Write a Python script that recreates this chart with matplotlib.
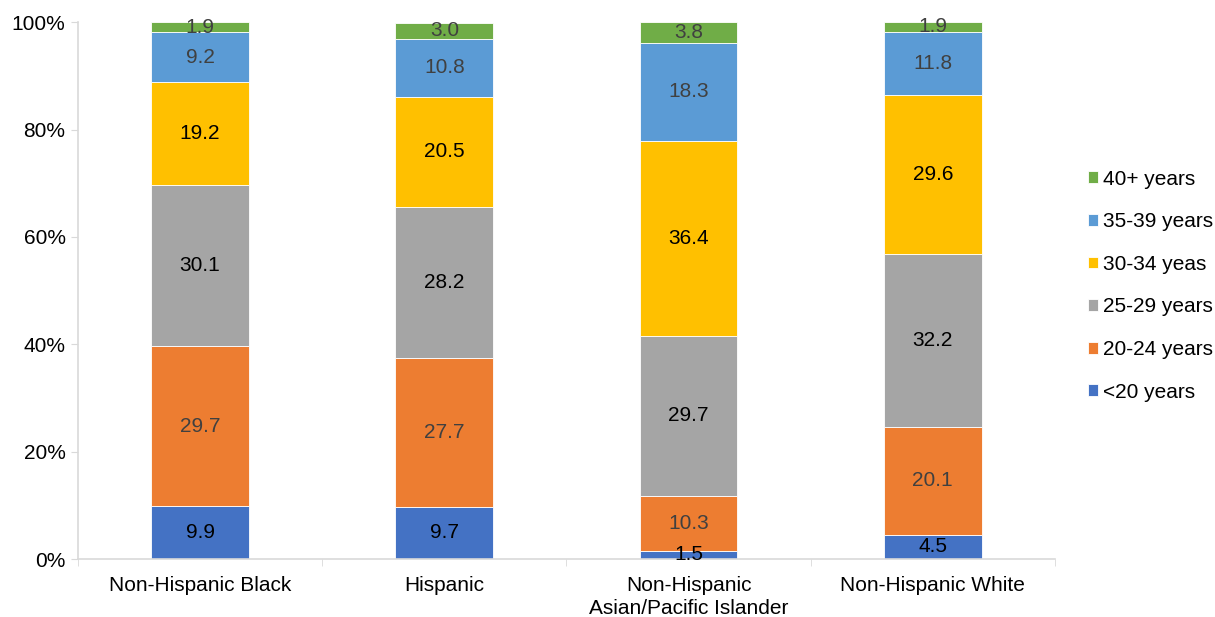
import matplotlib.pyplot as plt
import numpy as np

plt.rcParams['font.family'] = ['Liberation Sans', 'DejaVu Sans']

groups = ['Non-Hispanic Black', 'Hispanic', 'Non-Hispanic\nAsian/Pacific Islander', 'Non-Hispanic White']
age_bands = ['<20 years', '20-24 years', '25-29 years', '30-34 yeas', '35-39 years', '40+ years']
under_20 = [9.9, 9.7, 1.5, 4.5]
age_20_24 = [29.7, 27.7, 10.3, 20.1]
age_25_29 = [30.1, 28.2, 29.7, 32.2]
age_30_34 = [19.2, 20.5, 36.4, 29.6]
age_35_39 = [9.2, 10.8, 18.3, 11.8]
age_40_up = [1.9, 3.0, 3.8, 1.9]

series = [under_20, age_20_24, age_25_29, age_30_34, age_35_39, age_40_up]
colors = ['#4472C4', '#ED7D31', '#A5A5A5', '#FFC000', '#5B9BD5', '#70AD47']
text_colors = ['black', '#404040', 'black', 'black', '#404040', '#404040']

fig = plt.figure(figsize=(12.15, 6.17), dpi=100)
ax = fig.add_axes([0.0642, 0.094, 0.804, 0.870])

x = np.arange(len(groups))
bottom = np.zeros(len(groups))
handles = []
for vals, col, tc, lab in zip(series, colors, text_colors, age_bands):
    vals = np.array(vals)
    bars = ax.bar(x, vals, width=0.4, bottom=bottom, color=col, label=lab,
                  edgecolor='white', linewidth=0.6)
    handles.append(bars)
    for xi, b, v in zip(x, bottom, vals):
        ax.text(xi, b + v / 2, f'{v:.1f}', ha='center', va='center',
                fontsize=15, color=tc)
    bottom += vals

ax.set_xlim(-0.5, 3.5)
ax.set_ylim(0, 100)
ax.set_yticks(range(0, 101, 20))
ax.set_yticklabels([f'{t}%' for t in range(0, 101, 20)], fontsize=15)
ax.set_xticks(x)
ax.set_xticklabels(groups, fontsize=15, linespacing=1.3)
ax.tick_params(axis='x', length=0, pad=12)
ax.tick_params(axis='y', length=5, color='#D9D9D9', pad=4)
ax.set_xticks([-0.5, 0.5, 1.5, 2.5, 3.5], minor=True)
ax.tick_params(axis='x', which='minor', length=5, color='#D9D9D9')

for s in ['top', 'right']:
    ax.spines[s].set_visible(False)
for s in ['left', 'bottom']:
    ax.spines[s].set_color('#D9D9D9')
    ax.spines[s].set_linewidth(1.2)

ax.legend(handles[::-1], age_bands[::-1], loc='center left',
          bbox_to_anchor=(0.880, 0.537), bbox_transform=fig.transFigure,
          frameon=False, fontsize=15, handlelength=0.5, handleheight=0.5,
          handletextpad=0.2, labelspacing=1.13)

fig.savefig('out.png', dpi=100)
